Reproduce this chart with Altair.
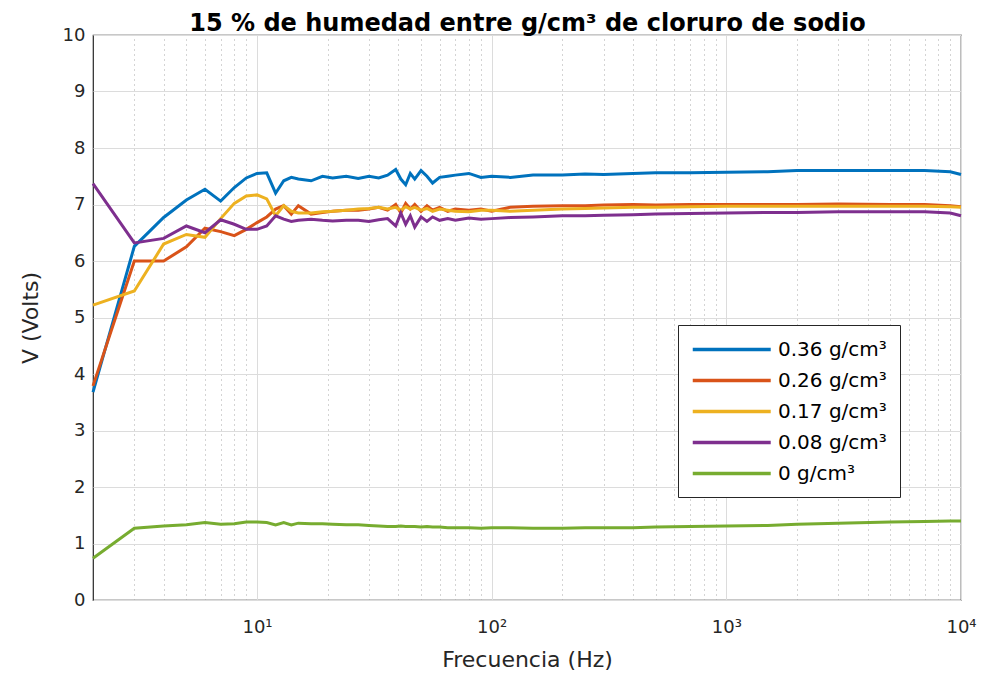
import altair as alt
import pandas as pd

# ---------------- data ----------------
freq = [2, 3, 4, 5, 6, 7, 8, 9, 10, 11, 12, 13, 14, 15, 17, 19, 21, 24, 27, 30,
        33, 36, 39, 41, 43, 45, 47, 50, 53, 56, 60, 65, 70, 80, 90, 100, 120, 150,
        200, 250, 300, 400, 500, 700, 1000, 1500, 2000, 3000, 5000, 7000, 9000, 10000]

v_036 = [3.68, 6.26, 6.77, 7.08, 7.27, 7.06, 7.30, 7.47, 7.55, 7.56, 7.20, 7.42, 7.48, 7.45, 7.42, 7.50, 7.47, 7.50, 7.46, 7.50,
         7.47, 7.52, 7.62, 7.45, 7.35, 7.55, 7.45, 7.60, 7.50, 7.38, 7.48, 7.50, 7.52, 7.55, 7.48, 7.50, 7.48, 7.52,
         7.52, 7.54, 7.53, 7.55, 7.56, 7.56, 7.57, 7.58, 7.60, 7.60, 7.60, 7.60, 7.58, 7.53]

v_026 = [3.79, 6.00, 6.00, 6.25, 6.58, 6.52, 6.45, 6.56, 6.68, 6.78, 6.92, 6.98, 6.83, 6.98, 6.83, 6.86, 6.88, 6.90, 6.90, 6.92,
         6.95, 6.90, 7.00, 6.85, 7.02, 6.92, 7.00, 6.88, 6.98, 6.90, 6.95, 6.88, 6.92, 6.90, 6.92, 6.88, 6.95, 6.97,
         6.98, 6.98, 6.99, 7.00, 6.99, 7.00, 7.00, 7.00, 7.00, 7.01, 7.00, 7.00, 6.98, 6.96]

v_017 = [5.22, 5.47, 6.30, 6.47, 6.42, 6.75, 7.02, 7.15, 7.17, 7.10, 6.80, 6.98, 6.88, 6.85, 6.85, 6.87, 6.88, 6.90, 6.92, 6.93,
         6.95, 6.92, 6.95, 6.90, 6.96, 6.92, 6.95, 6.90, 6.93, 6.88, 6.92, 6.90, 6.88, 6.87, 6.90, 6.90, 6.88, 6.90,
         6.92, 6.93, 6.94, 6.95, 6.95, 6.96, 6.97, 6.97, 6.97, 6.97, 6.97, 6.97, 6.96, 6.95]

v_008 = [7.37, 6.32, 6.40, 6.62, 6.50, 6.73, 6.65, 6.56, 6.56, 6.62, 6.80, 6.74, 6.70, 6.72, 6.74, 6.72, 6.71, 6.72, 6.72, 6.70,
         6.73, 6.75, 6.62, 6.85, 6.65, 6.80, 6.60, 6.78, 6.70, 6.78, 6.72, 6.75, 6.72, 6.76, 6.74, 6.75, 6.77, 6.78,
         6.80, 6.80, 6.81, 6.82, 6.83, 6.84, 6.85, 6.86, 6.86, 6.87, 6.87, 6.87, 6.85, 6.80]

v_000 = [0.74, 1.27, 1.31, 1.33, 1.37, 1.34, 1.35, 1.38, 1.38, 1.37, 1.33, 1.37, 1.33, 1.36, 1.35, 1.35, 1.34, 1.33, 1.33, 1.32,
         1.31, 1.30, 1.30, 1.31, 1.30, 1.30, 1.30, 1.29, 1.30, 1.29, 1.29, 1.28, 1.28, 1.28, 1.27, 1.28, 1.28, 1.27,
         1.27, 1.28, 1.28, 1.28, 1.29, 1.30, 1.31, 1.32, 1.34, 1.36, 1.38, 1.39, 1.40, 1.40]

series_names = ["0.36 g/cm³", "0.26 g/cm³", "0.17 g/cm³", "0.08 g/cm³", "0 g/cm³"]
series_values = [v_036, v_026, v_017, v_008, v_000]
series_colors = ["#0072BD", "#D95319", "#EDB120", "#7E2F8E", "#77AC30"]

chart_title = "15 % de humedad entre g/cm³ de cloruro de sodio"
x_title = "Frecuencia (Hz)"
y_title = "V (Volts)"

x_major = [10, 100, 1000, 10000]
x_minor = [3, 4, 5, 6, 7, 8, 9, 20, 30, 40, 50, 60, 70, 80, 90,
           200, 300, 400, 500, 600, 700, 800, 900, 2000, 3000, 4000, 5000, 6000, 7000, 8000, 9000]
y_ticks = [0, 1, 2, 3, 4, 5, 6, 7, 8, 9, 10]

rows = []
for name, vals in zip(series_names, series_values):
    for f, v in zip(freq, vals):
        rows.append({"f": f, "v": v, "s": name})
df = pd.DataFrame(rows)

FONT = "DejaVu Sans"
TXT = "#262626"

xscale = alt.Scale(type="log", domain=[2, 10000], nice=False)
yscale = alt.Scale(domain=[0, 10], nice=False, zero=False)

color = alt.Color(
    "s:N",
    scale=alt.Scale(domain=series_names, range=series_colors),
    legend=alt.Legend(
        title=None,
        orient="none",
        legendX=585,
        legendY=290,
        symbolType="M-1,0H7",
        symbolSize=380,
        symbolStrokeWidth=3.5,
        labelOffset=64,
        labelFontSize=20,
        labelFont=FONT,
        labelColor="#000000",
        rowPadding=9,
        padding=13,
        strokeColor="#262626",
        fillColor="#ffffff",
    ),
)

# invisible layer that carries the dotted minor x grid and the chart title (top axis)
grid_layer = alt.Chart(df).mark_line(opacity=0).encode(
    x=alt.X("f:Q", scale=xscale,
            axis=alt.Axis(orient="top", values=x_minor, grid=True, gridDash=[1, 4],
                          gridColor="#a8a8a8", gridWidth=1, labels=False, ticks=False,
                          domain=False, title=chart_title, titleFont=FONT, titleFontSize=24,
                          titleFontWeight="bold", titleColor="#000000", titleX=434, titleY=-5,
                          titleBaseline="alphabetic", titleAlign="center")),
    y=alt.Y("v:Q", scale=yscale, axis=None),
    detail="s:N",
)

x_enc = alt.X(
    "f:Q", scale=xscale,
    axis=alt.Axis(
        orient="bottom", values=x_major, grid=True, gridColor="#dcdcdc", gridWidth=1,
        ticks=False, domain=False,
        labelExpr="datum.value == 10 ? '10¹' : datum.value == 100 ? '10²' : datum.value == 1000 ? '10³' : '10⁴'",
        labelFont=FONT, labelFontSize=18, labelColor=TXT, labelPadding=18,
        labelFlush=False, labelOverlap=False,
        title=x_title, titleFont=FONT, titleFontSize=22, titleFontWeight="normal",
        titleColor=TXT, titleX=434, titleY=59, titleBaseline="middle",
    ),
)
y_enc = alt.Y(
    "v:Q", scale=yscale,
    axis=alt.Axis(
        orient="left", values=y_ticks, format="d", grid=True, gridColor="#dcdcdc", gridWidth=1,
        ticks=False, domain=False, labelFont=FONT, labelFontSize=18, labelColor=TXT,
        labelPadding=8, labelFlush=False,
        title=y_title, titleFont=FONT, titleFontSize=22, titleFontWeight="normal",
        titleColor=TXT, titleX=-63, titleY=282.5, titleBaseline="middle", titleAngle=-90,
    ),
)

line_layers = []
for i, name in enumerate(series_names):
    line_layers.append(
        alt.Chart(df).transform_filter(alt.datum.s == name).mark_line(strokeWidth=3).encode(
            x=x_enc if i == 0 else alt.X("f:Q", scale=xscale),
            y=y_enc if i == 0 else alt.Y("v:Q", scale=yscale),
            color=color,
        )
    )
lines = alt.layer(*line_layers)

chart = alt.layer(grid_layer, lines).resolve_axis(x="independent", y="independent").properties(
    width=868,
    height=565,
    autosize=alt.AutoSizeParams(type="none"),
    padding={"left": 85, "top": 27, "right": 16, "bottom": 70},
    background="#ffffff",
).configure_view(stroke="#262626", strokeWidth=1.2)

chart.save("out.html", embed_options={"renderer": "svg", "actions": False})
